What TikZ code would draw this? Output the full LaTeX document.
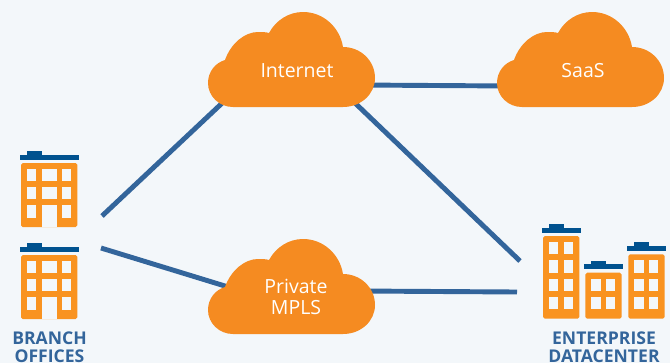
\documentclass[tikz,border=0pt]{standalone}
\usepackage{fontspec}
\setmainfont{Open Sans}
\usepackage{tikz}
\definecolor{pagebg}{HTML}{F3F7FA}
\definecolor{cloudorange}{HTML}{F58B21}
\definecolor{bldgorange}{HTML}{F99320}
\definecolor{roofblue}{HTML}{00528F}
\definecolor{linkblue}{HTML}{33659B}
\tikzset{
	link/.style={draw=linkblue,line width=2.8pt},
	cloudlabel/.style={text=white,font=\fontsize{11.1}{12}\selectfont,anchor=base,inner sep=0pt},
	sitelabel/.style={text=linkblue,font=\fontsize{10}{10}\selectfont\bfseries,anchor=base,inner sep=0pt},
	pics/cloudshape/.style={code={
		\fill[cloudorange] (-58,37) .. controls (-72,37) and (-83,26) .. (-83,13)
			.. controls (-83,2) and (-76,-7) .. (-66,-10)
			.. controls (-60,-27) and (-46,-38) .. (-33,-38)
			.. controls (-29,-38) and (-25,-38) .. (-22,-37)
			.. controls (-15,-50) and (-2,-58) .. (12,-58)
			.. controls (33,-58) and (49,-42) .. (52,-23)
			.. controls (70,-23) and (84,-9) .. (84,8)
			.. controls (84,24) and (70,37) .. (52,37) -- cycle;
	}}
}
% roof on a building, x and y are the corner of the body
\newcommand{\roofbar}[3]{
	\fill[roofblue] (#1-1.3,#2-8.3) rectangle +(#3,5);
	\fill[roofblue] (#1+5.6,#2-12.2) rectangle +(15.5,4);
}
% narrow tower with two columns of windows
\newcommand{\tower}[3]{
	\roofbar{#1}{#2}{39}
	\fill[bldgorange,rounded corners=1pt] (#1,#2) rectangle +(36.3,9.3+18.35*#3);
	\foreach \row in {1,...,#3}{
		\fill[pagebg] (#1+6,#2+6+18.35*\row-18.35) rectangle +(9.2,12.2);
		\fill[pagebg] (#1+20.8,#2+6+18.35*\row-18.35) rectangle +(9.2,12.2);
	}
}
% wide office with a door
\newcommand{\office}[2]{
	\roofbar{#1}{#2}{59}
	\fill[bldgorange,rounded corners=1pt] (#1,#2) rectangle +(56.3,64);
	\foreach \row in {0,1,2}{
		\fill[pagebg] (#1+5.7,#2+5.7+18.3*\row) rectangle +(9,12.3);
		\fill[pagebg] (#1+41.3,#2+5.7+18.3*\row) rectangle +(9,12.3);
	}
	\foreach \row in {0,1}
		\fill[pagebg] (#1+21,#2+5.7+18.3*\row) rectangle +(15,12.3);
	\fill[pagebg] (#1+21,#2+42.3) rectangle +(15,21.7);
}
\begin{document}
\begin{tikzpicture}[x=0.02cm,y=-0.02cm]
	\fill[pagebg] (0,0) rectangle (670,363);
	\useasboundingbox (0,0) rectangle (670,363);
	% ends of the links
	\coordinate (branchupper) at (102,216);
	\coordinate (branchlower) at (101,248);
	\coordinate (internetleft) at (235,91);
	\coordinate (internetright) at (360,85);
	\coordinate (internetlower) at (345,93.4);
	\coordinate (saasleft) at (510,86);
	\coordinate (mplsleft) at (240,290.6);
	\coordinate (mplsright) at (360,291);
	\coordinate (dcupper) at (520,261);
	\coordinate (dclower) at (517,292);
	\draw[link] (branchupper) -- (internetleft);
	\draw[link] (branchlower) -- (mplsleft);
	\draw[link] (internetright) -- (saasleft);
	\draw[link] (internetlower) -- (dcupper);
	\draw[link] (mplsright) -- (dclower);
	% clouds
	\pic at (291,70) {cloudshape};
	\pic at (580,70) {cloudshape};
	\pic at (291,297) {cloudshape};
	\node[cloudlabel] (internet) at (297,77) {Internet};
	\node[cloudlabel] (saas) at (583,77) {SaaS};
	\node[cloudlabel] (private) at (296,293) {Private};
	\node[cloudlabel] (mpls) at (296,314) {MPLS};
	% buildings
	\office{21}{163}
	\office{21}{255}
	\tower{543}{236}{4}
	\tower{585.3}{272.7}{2}
	\tower{628.3}{254.3}{3}
	\node[sitelabel] (branch) at (49.5,344) {BRANCH};
	\node[sitelabel] (offices) at (49.5,362) {OFFICES};
	\node[sitelabel] (enterprise) at (604,344) {ENTERPRISE};
	\node[sitelabel] (datacenter) at (604,362) {DATACENTER};
\end{tikzpicture}
\end{document}
